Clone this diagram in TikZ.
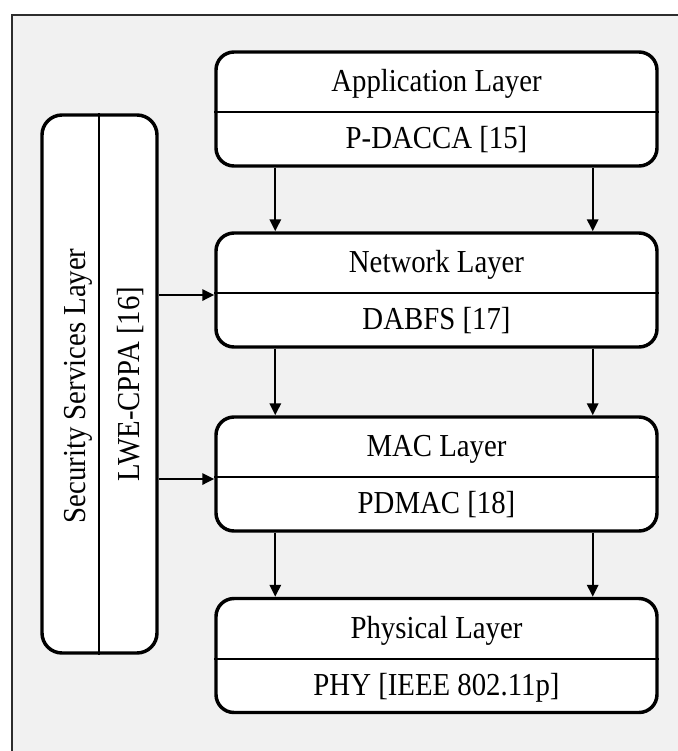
\documentclass[tikz,border=0pt]{standalone}
\usepackage{fontspec}
\setmainfont{Liberation Serif}[FakeStretch=0.9]
\usetikzlibrary{arrows.meta,calc}
\definecolor{panel}{RGB}{241,241,241}
\definecolor{framegray}{RGB}{45,45,45}
\begin{document}
\begin{tikzpicture}[x=0.75pt,y=-0.75pt,
  layerbox/.style={draw, fill=white, line width=2.6pt, rounded corners=13.5pt,
    minimum width=330.75pt, minimum height=85.5pt, inner sep=0pt},
  secbox/.style={draw, fill=white, line width=2.6pt, rounded corners=15pt,
    minimum width=86.25pt, minimum height=403.5pt, inner sep=0pt},
  txt/.style={font=\fontsize{24pt}{28pt}\selectfont, inner sep=0pt,
    text height=15.9pt, text depth=0pt, anchor=center},
  divider/.style={line width=1.8pt},
  arr/.style={line width=1.7pt, -{Triangle[length=9pt,width=8.5pt]}}]

% canvas and panel frame (frame runs past the right and bottom edges)
\useasboundingbox (0,0) rectangle (678,751);
\fill[white] (0,0) rectangle (678,751);
\begin{scope}
  \clip (0,0) rectangle (678,751);
  \draw[fill=panel, draw=framegray, line width=1.1pt] (12,15) rectangle (720,800);
\end{scope}

% layer stack
\node[layerbox] (app) at (436.5,109) {};
\node[layerbox] (net) at (436.5,290) {};
\node[layerbox] (mac) at (436.5,474) {};
\node[layerbox] (phy) at (436.5,655.5) {};

% dividers between layer name and protocol
\foreach \b in {app,net,mac,phy}{
  \draw[divider] ($(\b.north west)+(0,62)$) -- ($(\b.north east)+(0,62)$);
}

% layer texts
\node[txt] (appT) at ($(app.north)+(0,31)$) {Application Layer};
\node[txt] (appP) at ($(app.north)+(0,88)$) {P-DACCA [15]};
\node[txt] (netT) at ($(net.north)+(0,31)$) {Network Layer};
\node[txt] (netP) at ($(net.north)+(0,88)$) {DABFS [17]};
\node[txt] (macT) at ($(mac.north)+(0,31)$) {MAC Layer};
\node[txt] (macP) at ($(mac.north)+(0,88)$) {PDMAC [18]};
\node[txt] (phyT) at ($(phy.north)+(0,31)$) {Physical Layer};
\node[txt] (phyP) at ($(phy.north)+(0,88)$) {PHY [IEEE 802.11p]};

% security services column
\node[secbox] (sec) at (99.5,384) {};
\draw[divider] ($(sec.north west)+(59,0)$) coordinate (secdivtop)
  -- ($(sec.south west)+(59,0)$) coordinate (secdivbot);
\node[txt, rotate=90] (secT) at (75,386) {Security Services Layer};
\node[txt, rotate=90] (secP) at (128.5,384) {LWE-CPPA [16]};

% vertical flows between layers
\foreach \u/\l in {app/net,net/mac,mac/phy}{
  \draw[arr] ($(\u.south west)+(61,0)$) -- ($(\l.north west)+(61,0)$);
  \draw[arr] ($(\u.south east)+(-66,0)$) -- ($(\l.north east)+(-66,0)$);
}

% security links into network and MAC layers
\draw[arr] ($(sec.east |- net.west)+(0,5)$) -- ($(net.west)+(0,5)$);
\draw[arr] ($(sec.east |- mac.west)+(0,5)$) -- ($(mac.west)+(0,5)$);
\end{tikzpicture}
\end{document}
